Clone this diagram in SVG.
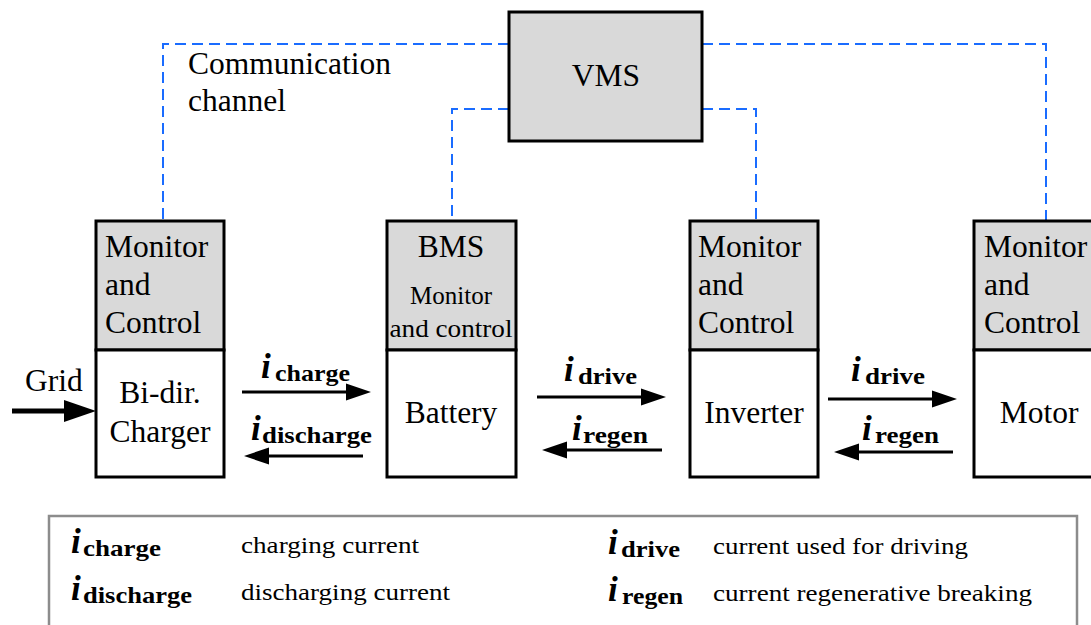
<svg xmlns="http://www.w3.org/2000/svg" width="1091" height="625" viewBox="0 0 1091 625">
<style>
.t,.ts,.tl,.iv,.sb{font-family:"Liberation Serif","Times New Roman",Times,serif;fill:#000}
.t{font-size:31.5px}
.ts{font-size:25px}
.tl{font-size:24px}
.iv{font-size:35px;font-weight:bold;font-style:italic}
.sb{font-size:24px;font-weight:bold}
.box{fill:#fff;stroke:#000;stroke-width:3}
.hd{fill:#d9d9d9;stroke:#000;stroke-width:3}
.dash{fill:none;stroke:#1a6cff;stroke-width:2;stroke-dasharray:11 6}
.ln{stroke:#000;stroke-width:3;fill:none}
</style>
<g id="connectors">
<path class="dash" d="M509,44 H163 V221"/>
<path class="dash" d="M509,109 H452 V221"/>
<path class="dash" d="M702,109 H756 V221"/>
<path class="dash" d="M702,44 H1046 V221"/>
<g id="grid-arrow">
<line x1="12" y1="411" x2="68" y2="411" stroke="#000" stroke-width="5"/>
<polygon points="64,400 96,411 64,422" fill="#000"/>
</g>
<g id="charge-arrow"><line class="ln" x1="242" y1="392" x2="350" y2="392"/><polygon points="346,383.5 371,392 346,400.5" fill="#000"/></g>
<g id="discharge-arrow"><line class="ln" x1="363" y1="456" x2="265" y2="456"/><polygon points="269,447.5 244,456 269,464.5" fill="#000"/></g>
<g id="drive-arrow-1"><line class="ln" x1="537" y1="397" x2="645" y2="397"/><polygon points="641,388.5 666,397 641,405.5" fill="#000"/></g>
<g id="regen-arrow-1"><line class="ln" x1="662" y1="450" x2="563" y2="450"/><polygon points="567,441.5 542,450 567,458.5" fill="#000"/></g>
<g id="drive-arrow-2"><line class="ln" x1="828" y1="399" x2="936" y2="399"/><polygon points="932,390.5 957,399 932,407.5" fill="#000"/></g>
<g id="regen-arrow-2"><line class="ln" x1="953" y1="452" x2="855" y2="452"/><polygon points="859,443.5 834,452 859,460.5" fill="#000"/></g>
</g>
<g id="vms">
<rect class="hd" x="509" y="12" width="193" height="129"/>
<text class="t" x="606" y="86" text-anchor="middle">VMS</text>
</g>
<g id="comm-label">
<text class="t" x="188" y="74">Communication</text>
<text class="t" x="188" y="111">channel</text>
</g>
<g id="charger">
<rect class="hd" x="96" y="221" width="128" height="129"/>
<rect class="box" x="96" y="350" width="128" height="127"/>
<text class="t" x="105" y="257">Monitor</text>
<text class="t" x="105" y="295">and</text>
<text class="t" x="105" y="333">Control</text>
<text class="t" x="160" y="403" text-anchor="middle">Bi-dir.</text>
<text class="t" x="160" y="442" text-anchor="middle">Charger</text>
</g>
<g id="battery">
<rect class="hd" x="387" y="221" width="129" height="129"/>
<rect class="box" x="387" y="350" width="129" height="127"/>
<text class="t" x="451" y="257" text-anchor="middle">BMS</text>
<text class="ts" x="451" y="304" text-anchor="middle">Monitor</text>
<text class="ts" x="451" y="337" text-anchor="middle" textLength="123" lengthAdjust="spacingAndGlyphs">and control</text>
<text class="t" x="451" y="423" text-anchor="middle">Battery</text>
</g>
<g id="inverter">
<rect class="hd" x="690" y="221" width="128" height="129"/>
<rect class="box" x="690" y="350" width="128" height="127"/>
<text class="t" x="698" y="257">Monitor</text>
<text class="t" x="698" y="295">and</text>
<text class="t" x="698" y="333">Control</text>
<text class="t" x="754" y="423" text-anchor="middle">Inverter</text>
</g>
<g id="motor">
<rect class="hd" x="974" y="221" width="128" height="129"/>
<rect class="box" x="974" y="350" width="128" height="127"/>
<text class="t" x="984" y="257">Monitor</text>
<text class="t" x="984" y="295">and</text>
<text class="t" x="984" y="333">Control</text>
<text class="t" x="1039" y="423" text-anchor="middle">Motor</text>
</g>
<g id="grid-label"><text class="t" x="25" y="391">Grid</text></g>
<g id="labels">
<text class="iv" x="261" y="378">i</text><text class="sb" x="275" y="381" textLength="75" lengthAdjust="spacingAndGlyphs">charge</text>
<text class="iv" x="251" y="440">i</text><text class="sb" x="262" y="443" textLength="110" lengthAdjust="spacingAndGlyphs">discharge</text>
<text class="iv" x="564" y="381">i</text><text class="sb" x="578" y="384" textLength="59" lengthAdjust="spacingAndGlyphs">drive</text>
<text class="iv" x="572" y="440">i</text><text class="sb" x="583" y="443" textLength="65" lengthAdjust="spacingAndGlyphs">regen</text>
<text class="iv" x="851" y="381">i</text><text class="sb" x="865" y="384" textLength="60" lengthAdjust="spacingAndGlyphs">drive</text>
<text class="iv" x="862" y="440">i</text><text class="sb" x="875" y="443" textLength="64" lengthAdjust="spacingAndGlyphs">regen</text>
</g>
<g id="legend">
<rect x="49" y="516" width="1028" height="130" fill="none" stroke="#8c8c8c" stroke-width="2.5"/>
<text class="iv" x="71" y="553">i</text><text class="sb" x="83" y="556" textLength="78" lengthAdjust="spacingAndGlyphs">charge</text>
<text class="tl" x="241" y="553" textLength="178" lengthAdjust="spacingAndGlyphs">charging current</text>
<text class="iv" x="71" y="600">i</text><text class="sb" x="83" y="603" textLength="109" lengthAdjust="spacingAndGlyphs">discharge</text>
<text class="tl" x="241" y="600" textLength="209" lengthAdjust="spacingAndGlyphs">discharging current</text>
<text class="iv" x="608" y="554">i</text><text class="sb" x="621" y="557" textLength="59" lengthAdjust="spacingAndGlyphs">drive</text>
<text class="tl" x="713" y="554" textLength="255" lengthAdjust="spacingAndGlyphs">current used for driving</text>
<text class="iv" x="608" y="601">i</text><text class="sb" x="622" y="604" textLength="61" lengthAdjust="spacingAndGlyphs">regen</text>
<text class="tl" x="713" y="601" textLength="319" lengthAdjust="spacingAndGlyphs">current regenerative breaking</text>
</g>
</svg>
